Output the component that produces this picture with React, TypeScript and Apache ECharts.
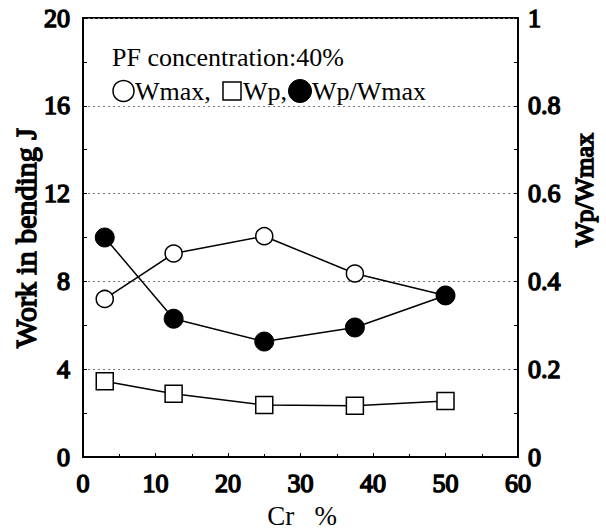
import React, { useEffect, useRef } from "react";
import * as echarts from "echarts";

const crPercent = [3, 12.5, 25, 37.5, 50];
const wmax = [7.2, 9.27, 10.06, 8.36, 7.36];
const wp = [3.45, 2.88, 2.37, 2.33, 2.55];
const wpRatio = [0.5, 0.315, 0.263, 0.295, 0.368];
const leftTicks = [0, 4, 8, 12, 16, 20];
const rightTicks = [0, 0.2, 0.4, 0.6, 0.8, 1];
const xTicks = [0, 10, 20, 30, 40, 50, 60];

const REG = "Liberation Serif";

export default function App() {
  const ref = useRef<HTMLDivElement>(null);
  useEffect(() => {
    if (!ref.current) return;
    const chart = echarts.init(ref.current, null, { renderer: "svg" });
    const pair = (xs: number[], ys: number[]) => xs.map((x, i) => [x, ys[i]]);
    const tickLabel = {
      fontFamily: REG,
      fontWeight: "normal" as const,
      fontSize: 26,
      color: "#000",
      textBorderColor: "#000",
      textBorderWidth: 1.5,
    };
    const txt = (text: string, x: number, y: number, size: number, bold: boolean, extra: any = {}) => ({
      type: "text",
      x,
      y,
      ...extra,
      style: {
        text,
        fontFamily: REG,
        fontSize: size,
        fontWeight: "normal",
        fill: "#000",
        stroke: bold ? "#000" : undefined,
        lineWidth: bold ? 1.5 : 0,
        align: extra.align || "left",
        verticalAlign: "middle",
      },
    });
    chart.setOption({
      animation: false,
      backgroundColor: "#fff",
      grid: {
        left: 83,
        right: 88,
        top: 18,
        bottom: 74,
        show: true,
        borderColor: "#000",
        borderWidth: 2,
        backgroundColor: "transparent",
      },
      xAxis: {
        type: "value",
        min: xTicks[0],
        max: xTicks[xTicks.length - 1],
        interval: 10,
        axisLine: { show: true, lineStyle: { color: "#000", width: 2 } },
        axisTick: { show: true, inside: true, length: 4, lineStyle: { color: "#000" } },
        minorTick: { show: true, splitNumber: 2, length: 3, lineStyle: { color: "#000" } },
        splitLine: { show: false },
        axisLabel: { ...tickLabel, margin: 13 },
      },
      yAxis: [
        {
          type: "value",
          min: leftTicks[0],
          max: leftTicks[leftTicks.length - 1],
          interval: 4,
          axisLine: { show: true, lineStyle: { color: "#000", width: 2 } },
          axisTick: { show: true, inside: true, length: 4, lineStyle: { color: "#000" } },
          minorTick: { show: true, splitNumber: 2, length: 4, lineStyle: { color: "#000" } },
          splitLine: { show: true, lineStyle: { color: "#777", type: [2, 3], width: 1 } },
          axisLabel: { ...tickLabel, margin: 13 },
        },
        {
          type: "value",
          min: rightTicks[0],
          max: rightTicks[rightTicks.length - 1],
          interval: 0.2,
          position: "right",
          axisLine: { show: true, lineStyle: { color: "#000", width: 2 } },
          axisTick: { show: true, inside: true, length: 4, lineStyle: { color: "#000" } },
          minorTick: { show: true, splitNumber: 2, length: 4, lineStyle: { color: "#000" } },
          splitLine: { show: false },
          axisLabel: {
            ...tickLabel,
            margin: 10,
            formatter: (v: number) => (v === 0 || v === 1 ? String(v) : v.toFixed(1)),
          },
        },
      ],
      series: [
        {
          name: "Wmax",
          type: "line",
          data: pair(crPercent, wmax),
          symbol: "circle",
          symbolSize: 17,
          lineStyle: { color: "#000", width: 1.5 },
          itemStyle: { color: "#fff", borderColor: "#000", borderWidth: 1.5 },
          z: 3,
        },
        {
          name: "Wp",
          type: "line",
          data: pair(crPercent, wp),
          symbol: "rect",
          symbolSize: 17,
          lineStyle: { color: "#000", width: 1.5 },
          itemStyle: { color: "#fff", borderColor: "#000", borderWidth: 1.5 },
          z: 3,
        },
        {
          name: "Wp/Wmax",
          type: "line",
          yAxisIndex: 1,
          data: pair(crPercent, wpRatio),
          symbol: "circle",
          symbolSize: 19,
          lineStyle: { color: "#000", width: 1.5 },
          itemStyle: { color: "#000", borderColor: "#000", borderWidth: 1 },
          z: 4,
        },
      ],
      graphic: [
        txt("PF concentration:40%", 112, 57, 26, false),
        {
          type: "circle",
          shape: { cx: 123.5, cy: 91, r: 10.5 },
          style: { fill: "#fff", stroke: "#000", lineWidth: 1.5 },
        },
        txt("Wmax,", 135, 91, 26, false),
        {
          type: "rect",
          shape: { x: 223, y: 82, width: 18, height: 18 },
          style: { fill: "#fff", stroke: "#000", lineWidth: 1.5 },
        },
        txt("Wp,", 243, 91, 26, false),
        {
          type: "circle",
          shape: { cx: 300, cy: 91, r: 11.5 },
          style: { fill: "#000", stroke: "#000", lineWidth: 1 },
        },
        txt("Wp/Wmax", 312, 91, 26, false),
        txt("Work in bending J", 25, 238, 30, true, { rotation: Math.PI / 2, align: "center" }),
        txt("Wp/Wmax", 584, 190, 26, true, { rotation: Math.PI / 2, align: "center" }),
        txt("Cr   %", 302, 516, 27, false, { align: "center" }),
      ],
    });
    return () => chart.dispose();
  }, []);
  return <div ref={ref} style={{ width: 606, height: 531, position: "fixed", left: 0, top: 0 }} />;
}
